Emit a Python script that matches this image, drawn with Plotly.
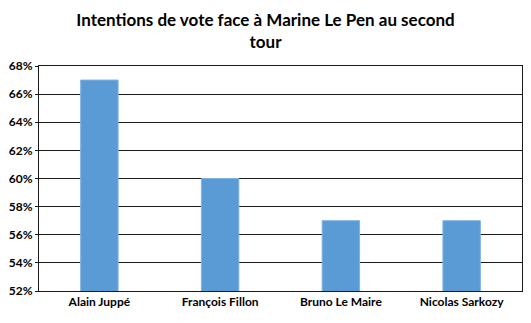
import plotly.graph_objects as go

candidats = ["Alain Juppé", "François Fillon", "Bruno Le Maire", "Nicolas Sarkozy"]
intentions = [0.67, 0.60, 0.57, 0.57]
tick_vals = [0.52, 0.54, 0.56, 0.58, 0.60, 0.62, 0.64, 0.66, 0.68]
tick_text = ["52%", "54%", "56%", "58%", "60%", "62%", "64%", "66%", "68%"]

FONT = "Lato, Calibri, Arial"

fig = go.Figure(
    go.Bar(
        x=candidats,
        y=intentions,
        base=0,
        marker=dict(color="#5B9BD5", line=dict(color="#7FB2E3", width=1)),
        width=0.31,
    )
)

fig.update_layout(
    width=531,
    height=323,
    margin=dict(l=39, r=9, t=66, b=32),
    paper_bgcolor="white",
    plot_bgcolor="white",
    showlegend=False,
    font=dict(family=FONT, color="#000000"),
    title=dict(
        text="<b>Intentions de vote face à Marine Le Pen au second<br>tour</b>",
        x=0.5,
        xanchor="center",
        y=1 - 26 / 323,
        yanchor="middle",
        font=dict(size=17, family=FONT),
    ),
)

fig.update_yaxes(
    range=[0.52, 0.68],
    tickvals=tick_vals,
    ticktext=["<b>%s</b>" % t for t in tick_text],
    tickfont=dict(size=12, family=FONT),
    showgrid=True,
    gridcolor="#1a1a1a",
    gridwidth=1,
    showline=True,
    linecolor="#1a1a1a",
    linewidth=1,
    mirror=True,
    ticks="outside",
    ticklen=3,
    tickcolor="#1a1a1a",
    zeroline=False,
)

fig.update_xaxes(
    tickfont=dict(size=12, family=FONT),
    tickprefix="<b>",
    ticksuffix="</b>",
    showline=True,
    linecolor="#1a1a1a",
    linewidth=1,
    mirror=True,
    ticks="",
    showgrid=False,
)

fig.write_html("out.html")
